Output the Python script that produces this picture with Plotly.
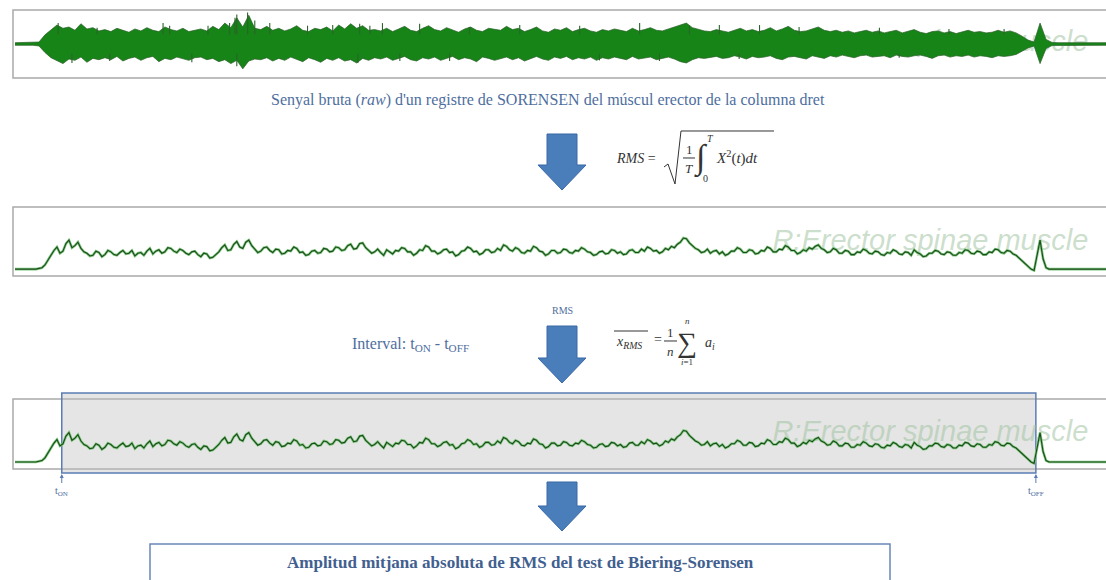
import numpy as np
import plotly.graph_objects as go

W, H = 1106, 580
def px(x): return x / W
def py(y): return 1 - y / H

# ---------------- data ----------------
dt_raw = 1.0   # s per raw-envelope sample
dt_rms = 0.5   # s per RMS sample
raw_upper = [
    0.10, 0.10, 0.10, 0.10, 0.15, 0.70, 1.10, 1.45, 1.20, 1.30,
    1.05, 1.55, 1.15, 1.25, 1.00, 1.10, 0.95, 1.20, 1.05, 0.90,
    1.15, 1.00, 1.25, 1.05, 0.95, 1.30, 1.10, 1.00, 1.20, 0.95,
    1.05, 1.15, 1.00, 1.35, 1.10, 1.60, 1.25, 2.00, 1.30, 2.20,
    1.20, 1.10, 1.35, 1.05, 1.20, 1.00, 1.15, 1.40, 1.05, 0.95,
    1.20, 1.10, 1.30, 1.00, 1.45, 1.15, 1.55, 1.20, 1.40, 1.05,
    1.10, 1.00, 1.20, 0.95, 1.15, 1.35, 1.05, 0.95, 1.20, 1.40,
    1.10, 1.00, 1.25, 1.05, 0.90, 1.15, 1.30, 1.05, 0.95, 1.20,
    1.10, 1.05, 1.35, 1.10, 1.20, 0.95, 1.10, 1.30, 1.00, 0.90,
    1.15, 1.05, 1.25, 0.95, 1.10, 1.20, 1.00, 0.90, 1.10, 1.00,
    1.15, 1.05, 0.95, 1.20, 1.00, 1.10, 1.25, 1.05, 1.00, 1.15,
    1.30, 1.50, 1.60, 1.25, 1.10, 1.00, 0.95, 1.10, 1.00, 0.90,
    1.05, 1.20, 1.00, 1.10, 0.95, 1.05, 1.25, 1.00, 1.15, 1.35,
    1.05, 0.95, 1.00, 1.15, 1.30, 1.05, 0.95, 1.05, 0.90, 1.00,
    0.85, 0.95, 1.05, 0.90, 1.00, 0.85, 0.95, 1.05, 0.85, 0.95,
    1.10, 0.90, 0.80, 0.95, 1.00, 0.85, 0.95, 0.80, 0.90, 1.05,
    0.90, 0.95, 0.85, 0.90, 1.05, 0.90, 1.00, 0.85, 0.60, 0.30,
    0.15, 1.60, 0.35, 0.12, 0.10, 0.10, 0.10, 0.08, 0.10, 0.10,
    0.08, 0.10, 0.10,
]
raw_lower = [
    -0.10, -0.10, -0.10, -0.10, -0.15, -0.65, -1.05, -1.30, -1.50, -1.15,
    -1.25, -1.00, -1.40, -1.10, -1.20, -1.05, -1.20, -0.95, -1.30, -1.10,
    -1.00, -1.25, -1.05, -0.95, -1.35, -1.10, -1.20, -1.00, -1.15, -1.25,
    -1.05, -1.00, -1.20, -1.10, -1.35, -1.20, -1.50, -1.25, -1.90, -1.30,
    -1.15, -1.20, -1.05, -1.30, -1.10, -1.25, -1.00, -1.15, -1.35, -1.05,
    -1.20, -1.40, -1.10, -1.25, -1.05, -1.30, -1.20, -1.45, -1.10, -1.25,
    -1.05, -1.15, -1.00, -1.25, -1.10, -0.95, -1.20, -1.30, -1.05, -1.15,
    -1.00, -1.25, -1.10, -0.95, -1.20, -1.05, -1.15, -1.35, -1.00, -1.10,
    -1.25, -1.10, -1.00, -1.20, -1.05, -1.30, -1.10, -0.95, -1.15, -1.25,
    -1.00, -1.10, -0.95, -1.20, -1.05, -1.15, -1.00, -1.25, -1.05, -1.15,
    -1.00, -1.10, -1.20, -0.95, -1.15, -1.05, -1.00, -1.20, -1.10, -1.00,
    -1.15, -1.35, -1.45, -1.20, -1.05, -1.10, -1.00, -0.95, -1.10, -1.05,
    -0.90, -1.00, -1.15, -0.95, -1.05, -1.00, -0.90, -1.10, -1.20, -1.00,
    -0.95, -1.05, -1.15, -0.90, -1.00, -1.10, -0.90, -1.00, -0.85, -0.95,
    -1.05, -0.90, -0.85, -1.00, -0.95, -0.90, -1.05, -0.85, -0.95, -1.00,
    -0.90, -0.85, -0.95, -1.10, -0.90, -0.85, -1.00, -0.90, -0.95, -0.85,
    -1.00, -0.90, -0.95, -1.05, -0.90, -0.95, -0.90, -0.80, -0.55, -0.30,
    -0.15, -1.50, -0.35, -0.12, -0.10, -0.10, -0.10, -0.10, -0.10, -0.10,
    -0.10, -0.10, -0.10,
]
# isolated spikes of the raw signal (time s, peak value)
spike_up_t = [7.2, 13.7, 24.7, 25.8, 32.2, 35.8, 36.7, 37.0, 38.8, 40.0, 42.5, 48.8, 53.0, 57.5,
              59.2, 61.3, 67.5, 75.8, 84.2, 94.2, 104.2, 112.5, 117.5, 124.2, 130.8, 144.2, 155.8, 165.0]
spike_up_v = [1.60, 1.25, 1.60, 1.40, 1.40, 1.60, 2.00, 2.25, 2.40, 1.80, 1.60, 1.40, 1.45, 1.55,
              1.40, 1.60, 1.55, 1.30, 1.45, 1.40, 1.60, 1.40, 1.45, 1.45, 1.30, 1.25, 1.15, 1.15]
spike_dn_t = [9.5, 15.8, 29.5, 37.0, 57.2, 64.2, 72.5, 97.5, 107.5, 120.8, 147.5]
spike_dn_v = [-1.45, -1.30, -1.40, -1.70, -1.45, -1.30, -1.30, -1.25, -1.30, -1.15, -1.05]

rms = [
    0.10, 0.10, 0.10, 0.09, 0.10, 0.10, 0.10, 0.10, 0.11, 0.12, 0.16, 0.24, 0.30, 0.37, 0.42, 0.33, 0.36, 0.47, 0.52, 0.41,
    0.44, 0.49, 0.40, 0.35, 0.33, 0.29, 0.30, 0.36, 0.34, 0.28, 0.31, 0.37, 0.35, 0.31, 0.30, 0.34, 0.37, 0.32, 0.33, 0.37,
    0.29, 0.33, 0.34, 0.30, 0.36, 0.40, 0.32, 0.36, 0.38, 0.33, 0.35, 0.41, 0.40, 0.36, 0.34, 0.39, 0.37, 0.33, 0.31, 0.35,
    0.36, 0.31, 0.28, 0.33, 0.32, 0.26, 0.27, 0.31, 0.35, 0.41, 0.45, 0.37, 0.38, 0.46, 0.50, 0.42, 0.40, 0.49, 0.52, 0.44,
    0.39, 0.34, 0.36, 0.41, 0.42, 0.37, 0.34, 0.39, 0.38, 0.32, 0.33, 0.37, 0.36, 0.42, 0.40, 0.34, 0.35, 0.30, 0.31, 0.36,
    0.37, 0.33, 0.34, 0.40, 0.39, 0.35, 0.36, 0.42, 0.41, 0.37, 0.38, 0.44, 0.46, 0.39, 0.40, 0.47, 0.48, 0.41, 0.37, 0.33,
    0.35, 0.39, 0.34, 0.30, 0.38, 0.35, 0.32, 0.37, 0.36, 0.41, 0.40, 0.35, 0.35, 0.30, 0.33, 0.38, 0.37, 0.44, 0.42, 0.36,
    0.36, 0.32, 0.34, 0.38, 0.39, 0.34, 0.35, 0.29, 0.31, 0.36, 0.37, 0.42, 0.40, 0.35, 0.36, 0.31, 0.33, 0.38, 0.38, 0.34,
    0.35, 0.40, 0.37, 0.45, 0.43, 0.38, 0.36, 0.41, 0.39, 0.34, 0.33, 0.37, 0.36, 0.43, 0.41, 0.36, 0.35, 0.30, 0.32, 0.37,
    0.37, 0.33, 0.34, 0.39, 0.38, 0.34, 0.33, 0.37, 0.36, 0.41, 0.39, 0.35, 0.34, 0.30, 0.31, 0.35, 0.36, 0.32, 0.33, 0.38,
    0.37, 0.33, 0.35, 0.31, 0.32, 0.37, 0.38, 0.34, 0.34, 0.39, 0.36, 0.42, 0.40, 0.36, 0.37, 0.33, 0.35, 0.40, 0.38, 0.43,
    0.41, 0.46, 0.49, 0.55, 0.54, 0.48, 0.44, 0.40, 0.38, 0.34, 0.35, 0.39, 0.33, 0.36, 0.37, 0.32, 0.35, 0.30, 0.32, 0.36,
    0.36, 0.41, 0.39, 0.34, 0.34, 0.38, 0.37, 0.32, 0.33, 0.37, 0.36, 0.42, 0.40, 0.35, 0.35, 0.39, 0.38, 0.44, 0.42, 0.37,
    0.37, 0.32, 0.34, 0.38, 0.36, 0.41, 0.39, 0.43, 0.45, 0.40, 0.38, 0.34, 0.35, 0.40, 0.38, 0.33, 0.33, 0.37, 0.36, 0.31,
    0.31, 0.35, 0.34, 0.39, 0.37, 0.33, 0.32, 0.36, 0.35, 0.31, 0.30, 0.34, 0.33, 0.38, 0.36, 0.32, 0.31, 0.35, 0.34, 0.30,
    0.38, 0.34, 0.32, 0.28, 0.29, 0.33, 0.33, 0.37, 0.36, 0.32, 0.31, 0.35, 0.34, 0.30, 0.30, 0.34, 0.33, 0.38, 0.37, 0.33,
    0.32, 0.36, 0.35, 0.31, 0.31, 0.35, 0.34, 0.39, 0.38, 0.34, 0.33, 0.37, 0.36, 0.32, 0.30, 0.26, 0.22, 0.17, 0.14, 0.10,
    0.08, 0.30, 0.52, 0.25, 0.12, 0.10, 0.10, 0.10, 0.10, 0.11, 0.10, 0.10, 0.11, 0.10, 0.10, 0.11, 0.10, 0.10, 0.11, 0.10,
    0.10, 0.10, 0.10, 0.11, 0.10,
]
assert len(raw_upper) == len(raw_lower)

t_on, t_off = 7.8, 170.3          # interval limits (s)
t_end = 182.0
watermark = "R:Erector spinae muscle"
watermark_t = 152.7
caption = "Senyal bruta (<i>raw</i>) d'un registre de SORENSEN del múscul erector de la columna dret"
rms_label = "RMS"
interval_label = "Interval: t<sub>ON</sub> - t<sub>OFF</sub>"
result_label = "<b>Amplitud mitjana absoluta de RMS del test de Biering-Sorensen</b>"

t_raw = np.arange(len(raw_upper)) * dt_raw
t_rms = np.arange(len(rms)) * dt_rms

# ---------------- colours ----------------
BLUE_TXT = "#4e6e9e"
BLUE_ARR = "#4a7ebb"
BLUE_EDGE = "#3b69a6"
BOX_GRAY = "#a9a9a9"
WM_COL = "rgba(160,195,160,0.55)"
G_FILL = "#178417"
G_EDGE = "#2a5e2a"
G_LIGHT = "#7cc87c"
G_DARK = "#1d4a1d"

fig = go.Figure()

# watermark texts (below signals)
for xa, ya, yv in [("x", "y", 0.0), ("x2", "y2", 0.48), ("x3", "y3", 0.50)]:
    fig.add_trace(go.Scatter(x=[watermark_t], y=[yv], mode="text", text=[watermark],
                             textposition="middle center",
                             textfont=dict(family="Liberation Sans", size=29, color=WM_COL, style="italic"),
                             xaxis=xa, yaxis=ya, hoverinfo="skip", cliponaxis=False))

# raw signal envelope
fig.add_trace(go.Scatter(x=list(t_raw) + list(t_raw[::-1]), y=raw_upper + raw_lower[::-1],
                         fill="toself", fillcolor=G_FILL, mode="lines",
                         line=dict(color=G_EDGE, width=0.7), xaxis="x", yaxis="y", hoverinfo="skip"))
# raw spikes (drawn from inside the band outwards)
sx, sy = [], []
for ts, v in list(zip(spike_up_t, spike_up_v)) + list(zip(spike_dn_t, spike_dn_v)):
    sx += [ts, ts, None]
    sy += [0.75 if v > 0 else -0.75, v, None]
fig.add_trace(go.Scatter(x=sx, y=sy, mode="lines", line=dict(color="#2b632b", width=1.1),
                         xaxis="x", yaxis="y", hoverinfo="skip"))

# RMS signal in panels 2 and 3
for xa, ya in [("x2", "y2"), ("x3", "y3")]:
    fig.add_trace(go.Scatter(x=t_rms, y=rms, mode="lines", line=dict(color=G_LIGHT, width=2.6),
                             xaxis=xa, yaxis=ya, hoverinfo="skip"))
    fig.add_trace(go.Scatter(x=t_rms, y=rms, mode="lines", line=dict(color=G_DARK, width=1.1),
                             xaxis=xa, yaxis=ya, hoverinfo="skip"))

ax_common = dict(visible=False, showgrid=False, zeroline=False, fixedrange=True)
fig.update_layout(
    width=W, height=H, margin=dict(l=0, r=0, t=0, b=0),
    paper_bgcolor="white", plot_bgcolor="rgba(0,0,0,0)", showlegend=False,
    xaxis=dict(domain=[px(15), 1], range=[0, t_end], anchor="y", **ax_common),
    yaxis=dict(domain=[py(78), py(10)], range=[-2.6, 2.6], anchor="x", **ax_common),
    xaxis2=dict(domain=[px(15), 1], range=[0, t_end], anchor="y2", **ax_common),
    yaxis2=dict(domain=[py(276), py(207)], range=[0, 1], anchor="x2", **ax_common),
    xaxis3=dict(domain=[px(15), 1], range=[0, t_end], anchor="y3", **ax_common),
    yaxis3=dict(domain=[py(469), py(399)], range=[0, 1], anchor="x3", **ax_common),
)

shapes = []
def prect(x0, y0, x1, y1, **kw):
    d = dict(type="rect", xref="paper", yref="paper", x0=px(x0), x1=px(x1), y0=py(y1), y1=py(y0), layer="below")
    d.update(kw)
    shapes.append(d)

# panel frames
prect(13, 10, 1115, 78, line=dict(color=BOX_GRAY, width=1.5), fillcolor="white")
prect(13, 207, 1115, 276, line=dict(color=BOX_GRAY, width=1.5), fillcolor="white")
prect(13, 399, 1115, 469, line=dict(color=BOX_GRAY, width=1.5), fillcolor="white")
# interval rectangle (data x)
shapes.append(dict(type="rect", xref="x3", yref="paper", x0=t_on, x1=t_off, y0=py(473), y1=py(393),
                   line=dict(color="#5b7db5", width=1.5), fillcolor="rgba(190,190,190,0.40)", layer="below"))
# result box
prect(150, 544, 890, 600, line=dict(color="#6a86b8", width=1.5), fillcolor="white")

def block_arrow(cx, y0, y1, sw=15, hw=24, hh=25):
    yh = y1 - hh
    pts = [(cx - sw, y0), (cx + sw, y0), (cx + sw, yh), (cx + hw, yh), (cx, y1), (cx - hw, yh), (cx - sw, yh)]
    path = "M " + " L ".join(f"{px(a):.5f},{py(b):.5f}" for a, b in pts) + " Z"
    shapes.append(dict(type="path", xref="paper", yref="paper", path=path,
                       fillcolor=BLUE_ARR, line=dict(color=BLUE_EDGE, width=1), layer="above"))

block_arrow(562, 134, 190)
block_arrow(562, 326, 383)
block_arrow(562, 482, 531)

def pline(pts, color="#333333", width=1):
    path = "M " + " L ".join(f"{px(a):.5f},{py(b):.5f}" for a, b in pts)
    shapes.append(dict(type="path", xref="paper", yref="paper", path=path,
                       line=dict(color=color, width=width), layer="above"))

# RMS formula: radical and fraction bar
pline([(664, 167), (668, 164), (675, 184), (681, 131), (774, 131)])
pline([(683, 158), (695, 158)])
# mean formula: overline and fraction bar
pline([(614, 331), (648, 331)])
pline([(664, 341), (677, 341)])

annotations = []
def txt(x, y, s, size=12, color="#333333", family="Liberation Serif", xanchor="center", **kw):
    annotations.append(dict(x=px(x), y=py(y), xref="paper", yref="paper", text=s, showarrow=False,
                            xanchor=xanchor, yanchor="middle",
                            font=dict(size=size, color=color, family=family), **kw))

txt(548, 100, caption, size=16, color=BLUE_TXT)
# formula 1
txt(614, 158, "<i>RMS</i> =", size=14, xanchor="left")
txt(689, 149, "1", size=13)
txt(689, 168, "<i>T</i>", size=13)
txt(701, 158, "<i>∫</i>", size=34)
txt(710, 138, "<i>T</i>", size=10)
txt(705, 178, "0", size=10)
txt(714, 157, "<i>X</i><sup>2</sup>(<i>t</i>)<i>dt</i>", size=15, xanchor="left")

txt(562, 310, rms_label, size=10, color=BLUE_TXT)
txt(410, 344, interval_label, size=16, color=BLUE_TXT)
# formula 2
txt(614, 342, "<i>x</i><sub><i>RMS</i></sub>", size=14, xanchor="left")
txt(652, 340, "=", size=14, xanchor="left")
txt(670, 332, "1", size=13)
txt(670, 351, "<i>n</i>", size=13)
txt(687, 342, "∑", size=28)
txt(687, 321, "<i>n</i>", size=9)
txt(687, 362, "<i>i</i>=1", size=9)
txt(703, 343, "<i>a</i><sub><i>i</i></sub>", size=14, xanchor="left")

txt(520, 562, result_label, size=17, color="#41608f")

# tON / tOFF markers
for tv, lab in [(t_on, "t<sub>ON</sub>"), (t_off, "t<sub>OFF</sub>")]:
    annotations.append(dict(x=tv, y=py(474), xref="x3", yref="paper", text=lab, showarrow=True,
                            ax=0, ay=17, arrowhead=2, arrowsize=0.8, arrowwidth=1, arrowcolor="#5b7db5",
                            font=dict(size=10, color=BLUE_TXT, family="Liberation Serif")))

fig.update_layout(shapes=shapes, annotations=annotations)
fig.write_html("out.html")
